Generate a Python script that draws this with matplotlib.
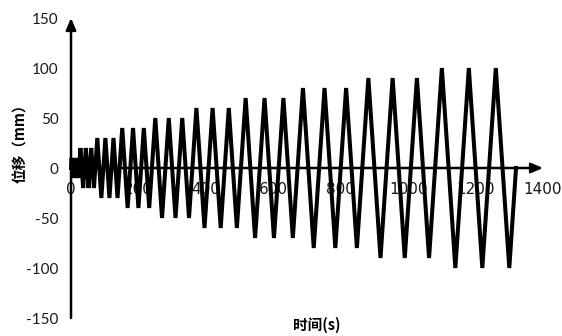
import numpy as np
import matplotlib
matplotlib.use("Agg")
import matplotlib.pyplot as plt

# Loading protocol
amplitudes = [10, 20, 30, 40, 50, 60, 70, 80, 90, 100]   # mm
cycles = [3, 3, 3, 3, 3, 3, 3, 3, 3, 3]
periods = [8, 16, 24, 32, 40, 48, 56, 64, 72, 80]        # s per cycle
x_ticks = [0, 200, 400, 600, 800, 1000, 1200, 1400]
y_ticks = [-150, -100, -50, 0, 50, 100, 150]

# build vertex table of the triangular wave
t = [0.0]
d = [0.0]
for a, n, p in zip(amplitudes, cycles, periods):
    for _ in range(n):
        t0 = t[-1]
        t += [t0 + p / 4, t0 + p / 2, t0 + 3 * p / 4, t0 + p]
        d += [a, 0, -a, 0]

fig = plt.figure(figsize=(5.62, 3.36), dpi=100)
ax = fig.add_axes([71 / 562, 1 - 318 / 336, 472 / 562, 300 / 336])
ax.plot(t, d, color="black", lw=2.9, solid_joinstyle="miter", zorder=3, clip_on=False)

ax.set_xlim(0, 1400)
ax.set_ylim(-150, 150)
ax.set_xticks(x_ticks)
ax.set_yticks(y_ticks)
ax.set_xticklabels([str(v) for v in x_ticks])
ax.set_yticklabels([str(v) for v in y_ticks])

for s in ["top", "right", "left", "bottom"]:
    ax.spines[s].set_visible(False)
ax.tick_params(axis="both", length=0, labelsize=11, colors="#1a1a1a")
ax.tick_params(axis="y", pad=9)
for lab in ax.get_xticklabels() + ax.get_yticklabels():
    lab.set_family(["Lato", "DejaVu Sans"])
# x tick labels sit just below the zero line
ax.xaxis.set_ticks_position("bottom")
ax.spines["bottom"].set_position(("data", 0))
ax.tick_params(axis="x", pad=10)

# axis lines with arrows
arrow = dict(arrowstyle="-|>,head_length=0.7,head_width=0.3", color="black", lw=1.8,
             shrinkA=0, shrinkB=0)
ax.annotate("", xy=(1400, 0), xytext=(0, 0), arrowprops=arrow, annotation_clip=False)
ax.annotate("", xy=(0, 150), xytext=(0, -150), arrowprops=arrow, annotation_clip=False)

fig.text(20 / 562, 1 - 140 / 336, "位移（mm）", rotation=90, ha="center", va="center",
         fontsize=10.5, fontweight="bold", family=["Noto Sans CJK SC", "DejaVu Sans"])
fig.text(317 / 562, 1 - 325 / 336, "时间(s)", ha="center", va="center",
         fontsize=10.5, fontweight="bold", family=["Noto Sans CJK SC", "DejaVu Sans"])

fig.savefig("out.png", dpi=100)
